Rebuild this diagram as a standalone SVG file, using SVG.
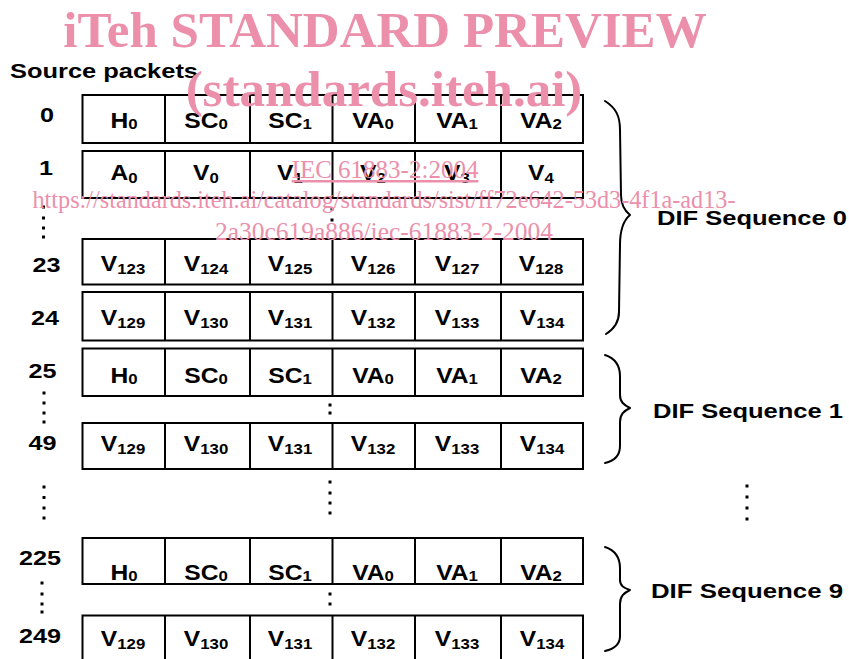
<svg xmlns="http://www.w3.org/2000/svg" width="849" height="659" viewBox="0 0 849 659">
<style>
.t{font-family:"Liberation Sans",Arial,sans-serif;font-weight:bold;font-size:21px;fill:#000}
.k{font-family:"Liberation Sans",Arial,sans-serif;font-weight:bold;font-size:22px;fill:#000;text-anchor:middle}
.c{text-anchor:middle}
.s{font-size:15px}
.box{fill:#fff;stroke:#000;stroke-width:2}
.div{stroke:#000;stroke-width:2}
.br{fill:none;stroke:#000;stroke-width:2;stroke-linecap:round;stroke-linejoin:round}
.d{fill:#000}
.wm{font-family:"Liberation Serif","Times New Roman",serif;fill:#ec8fab}
.wb{font-weight:bold;font-size:51px;text-anchor:middle}
.wr{font-size:25px;text-anchor:middle}
</style>
<rect width="849" height="659" fill="#fff"/>

<g id="title"><text class="t" x="10" y="78" textLength="188" lengthAdjust="spacingAndGlyphs">Source packets</text></g>

<g id="labels">
<text class="t c" transform="translate(47 122) scale(1.2 1)">0</text>
<text class="t c" transform="translate(46 175) scale(1.2 1)">1</text>
<text class="t c" transform="translate(46.5 272) scale(1.2 1)">23</text>
<text class="t c" transform="translate(45 325) scale(1.2 1)">24</text>
<text class="t c" transform="translate(42.5 378) scale(1.2 1)">25</text>
<text class="t c" transform="translate(42.5 450) scale(1.2 1)">49</text>
<text class="t c" transform="translate(40 565) scale(1.2 1)">225</text>
<text class="t c" transform="translate(40 643) scale(1.2 1)">249</text>
</g>

<g id="row0">
<rect class="box" x="82.5" y="95" width="500.5" height="48"/>
<path class="div" d="M165 95V143M250 95V143M332.5 95V143M415 95V143M501 95V143"/>
<text class="k" transform="translate(124 128) scale(1.12 1)">H<tspan class="s" dy="1">0</tspan></text>
<text class="k" transform="translate(206 128) scale(1.12 1)">SC<tspan class="s" dy="1">0</tspan></text>
<text class="k" transform="translate(290 128) scale(1.12 1)">SC<tspan class="s" dy="1">1</tspan></text>
<text class="k" transform="translate(373 128) scale(1.12 1)">VA<tspan class="s" dy="1">0</tspan></text>
<text class="k" transform="translate(457 128) scale(1.12 1)">VA<tspan class="s" dy="1">1</tspan></text>
<text class="k" transform="translate(541 128) scale(1.12 1)">VA<tspan class="s" dy="1">2</tspan></text>
</g>

<g id="row1">
<rect class="box" x="82.5" y="151" width="500.5" height="47"/>
<path class="div" d="M165 151V198M250 151V198M332.5 151V198M415 151V198M501 151V198"/>
<text class="k" transform="translate(124 180) scale(1.12 1)">A<tspan class="s" dy="3">0</tspan></text>
<text class="k" transform="translate(206 180) scale(1.12 1)">V<tspan class="s" dy="3">0</tspan></text>
<text class="k" transform="translate(290 180) scale(1.12 1)">V<tspan class="s" dy="3">1</tspan></text>
<text class="k" transform="translate(373 180) scale(1.12 1)">V<tspan class="s" dy="3">2</tspan></text>
<text class="k" transform="translate(457 180) scale(1.12 1)">V<tspan class="s" dy="3">3</tspan></text>
<text class="k" transform="translate(541 180) scale(1.12 1)">V<tspan class="s" dy="3">4</tspan></text>
</g>

<g id="row23">
<rect class="box" x="82.5" y="239" width="500.5" height="45.5"/>
<path class="div" d="M165 239V284.5M250 239V284.5M332.5 239V284.5M415 239V284.5M501 239V284.5"/>
<text class="k" transform="translate(123 271) scale(1.12 1)">V<tspan class="s" dy="3">123</tspan></text>
<text class="k" transform="translate(206 271) scale(1.12 1)">V<tspan class="s" dy="3">124</tspan></text>
<text class="k" transform="translate(290 271) scale(1.12 1)">V<tspan class="s" dy="3">125</tspan></text>
<text class="k" transform="translate(373 271) scale(1.12 1)">V<tspan class="s" dy="3">126</tspan></text>
<text class="k" transform="translate(457 271) scale(1.12 1)">V<tspan class="s" dy="3">127</tspan></text>
<text class="k" transform="translate(541 271) scale(1.12 1)">V<tspan class="s" dy="3">128</tspan></text>
</g>

<g id="row24">
<rect class="box" x="82.5" y="292" width="500.5" height="48.5"/>
<path class="div" d="M165 292V340.5M250 292V340.5M332.5 292V340.5M415 292V340.5M501 292V340.5"/>
<text class="k" transform="translate(123 325) scale(1.12 1)">V<tspan class="s" dy="3">129</tspan></text>
<text class="k" transform="translate(206 325) scale(1.12 1)">V<tspan class="s" dy="3">130</tspan></text>
<text class="k" transform="translate(290 325) scale(1.12 1)">V<tspan class="s" dy="3">131</tspan></text>
<text class="k" transform="translate(373 325) scale(1.12 1)">V<tspan class="s" dy="3">132</tspan></text>
<text class="k" transform="translate(457 325) scale(1.12 1)">V<tspan class="s" dy="3">133</tspan></text>
<text class="k" transform="translate(542 325) scale(1.12 1)">V<tspan class="s" dy="3">134</tspan></text>
</g>

<g id="row25">
<rect class="box" x="82.5" y="348.5" width="500.5" height="47.5"/>
<path class="div" d="M165 348.5V396M250 348.5V396M332.5 348.5V396M415 348.5V396M501 348.5V396"/>
<text class="k" transform="translate(124 383) scale(1.12 1)">H<tspan class="s" dy="1">0</tspan></text>
<text class="k" transform="translate(206 383) scale(1.12 1)">SC<tspan class="s" dy="1">0</tspan></text>
<text class="k" transform="translate(290 383) scale(1.12 1)">SC<tspan class="s" dy="1">1</tspan></text>
<text class="k" transform="translate(373 383) scale(1.12 1)">VA<tspan class="s" dy="1">0</tspan></text>
<text class="k" transform="translate(457 383) scale(1.12 1)">VA<tspan class="s" dy="1">1</tspan></text>
<text class="k" transform="translate(541 383) scale(1.12 1)">VA<tspan class="s" dy="1">2</tspan></text>
</g>

<g id="row49">
<rect class="box" x="82.5" y="423" width="500.5" height="46"/>
<path class="div" d="M165 423V469M250 423V469M332.5 423V469M415 423V469M501 423V469"/>
<text class="k" transform="translate(123 451) scale(1.12 1)">V<tspan class="s" dy="3">129</tspan></text>
<text class="k" transform="translate(206 451) scale(1.12 1)">V<tspan class="s" dy="3">130</tspan></text>
<text class="k" transform="translate(290 451) scale(1.12 1)">V<tspan class="s" dy="3">131</tspan></text>
<text class="k" transform="translate(373 451) scale(1.12 1)">V<tspan class="s" dy="3">132</tspan></text>
<text class="k" transform="translate(457 451) scale(1.12 1)">V<tspan class="s" dy="3">133</tspan></text>
<text class="k" transform="translate(542 451) scale(1.12 1)">V<tspan class="s" dy="3">134</tspan></text>
</g>

<g id="row225">
<rect class="box" x="82.5" y="538" width="500.5" height="46"/>
<path class="div" d="M165 538V584M250 538V584M332.5 538V584M415 538V584M501 538V584"/>
<text class="k" transform="translate(124 580) scale(1.12 1)">H<tspan class="s" dy="0.5">0</tspan></text>
<text class="k" transform="translate(206 580) scale(1.12 1)">SC<tspan class="s" dy="0.5">0</tspan></text>
<text class="k" transform="translate(290 580) scale(1.12 1)">SC<tspan class="s" dy="0.5">1</tspan></text>
<text class="k" transform="translate(373 580) scale(1.12 1)">VA<tspan class="s" dy="0.5">0</tspan></text>
<text class="k" transform="translate(457 580) scale(1.12 1)">VA<tspan class="s" dy="0.5">1</tspan></text>
<text class="k" transform="translate(541 580) scale(1.12 1)">VA<tspan class="s" dy="0.5">2</tspan></text>
</g>

<g id="row249">
<rect class="box" x="82.5" y="615.5" width="500.5" height="60"/>
<path class="div" d="M165 615.5V675M250 615.5V675M332.5 615.5V675M415 615.5V675M501 615.5V675"/>
<text class="k" transform="translate(123 646) scale(1.12 1)">V<tspan class="s" dy="3">129</tspan></text>
<text class="k" transform="translate(206 646) scale(1.12 1)">V<tspan class="s" dy="3">130</tspan></text>
<text class="k" transform="translate(290 646) scale(1.12 1)">V<tspan class="s" dy="3">131</tspan></text>
<text class="k" transform="translate(373 646) scale(1.12 1)">V<tspan class="s" dy="3">132</tspan></text>
<text class="k" transform="translate(457 646) scale(1.12 1)">V<tspan class="s" dy="3">133</tspan></text>
<text class="k" transform="translate(542 646) scale(1.12 1)">V<tspan class="s" dy="3">134</tspan></text>
</g>

<g id="ellipses">
<rect class="d" x="42" y="205.5" width="3" height="3"/><rect class="d" x="42" y="216.5" width="3" height="3"/><rect class="d" x="42" y="226.5" width="3" height="3"/><rect class="d" x="42" y="235.5" width="3" height="3"/>
<rect class="d" x="42.5" y="391.5" width="3" height="3"/><rect class="d" x="42.5" y="401.5" width="3" height="3"/><rect class="d" x="42.5" y="411.5" width="3" height="3"/><rect class="d" x="42.5" y="420.5" width="3" height="3"/>
<rect class="d" x="42.5" y="485.5" width="3" height="3"/><rect class="d" x="42.5" y="496" width="3" height="3"/><rect class="d" x="42.5" y="506.5" width="3" height="3"/><rect class="d" x="42.5" y="516.5" width="3" height="3"/>
<rect class="d" x="40.5" y="581.5" width="3" height="3"/><rect class="d" x="40.5" y="592.5" width="3" height="3"/><rect class="d" x="40.5" y="602.5" width="3" height="3"/><rect class="d" x="40.5" y="610.5" width="3" height="3"/>
<rect class="d" x="330.5" y="207.5" width="3" height="3"/><rect class="d" x="330.5" y="218.5" width="3" height="3"/>
<rect class="d" x="328.5" y="403.5" width="3" height="3"/><rect class="d" x="328.5" y="411.5" width="3" height="3"/>
<rect class="d" x="328.5" y="480.5" width="3" height="3"/><rect class="d" x="328.5" y="491.5" width="3" height="3"/><rect class="d" x="328.5" y="501.5" width="3" height="3"/><rect class="d" x="328.5" y="511.5" width="3" height="3"/>
<rect class="d" x="328.5" y="592.5" width="3" height="3"/><rect class="d" x="328.5" y="602.5" width="3" height="3"/>
<rect class="d" x="745.5" y="484.5" width="3" height="3"/><rect class="d" x="745.5" y="495.5" width="3" height="3"/><rect class="d" x="745.5" y="506.5" width="3" height="3"/><rect class="d" x="745.5" y="517.5" width="3" height="3"/>
</g>

<g id="connectors">
<path class="br" d="M605 101C616 108 620 116 620 130L621 195C621 205 625 211 630 215C624 220 620 228 620 245L619 312C619 322 614 329 606 334"/>
<path class="br" d="M605 355C614 358 620 364 620 376L620 395C620 402 624 405 630 408C624 411 620 414 620 422L620 446C620 456 614 461 605 463"/>
<path class="br" d="M605 547C614 550 620 556 620 568L620 580C620 586 624 588 630 590C624 593 620 596 620 604L620 636C620 645 614 649 605 651"/>
</g>

<g id="seq0"><text class="t" x="657" y="225" textLength="190" lengthAdjust="spacingAndGlyphs">DIF Sequence 0</text></g>
<g id="seq1"><text class="t" x="653" y="418" textLength="190" lengthAdjust="spacingAndGlyphs">DIF Sequence 1</text></g>
<g id="seq9"><text class="t" x="651" y="598" textLength="192" lengthAdjust="spacingAndGlyphs">DIF Sequence 9</text></g>

<g id="watermark">
<text class="wm wb" x="385" y="47">iTeh STANDARD PREVIEW</text>
<text class="wm wb" x="384" y="106">(standards.iteh.ai)</text>
<text class="wm wr" x="385" y="178" text-decoration="underline">IEC 61883-2:2004</text>
<text class="wm wr" x="384" y="208" textLength="703" lengthAdjust="spacingAndGlyphs">https://standards.iteh.ai/catalog/standards/sist/ff72e642-53d3-4f1a-ad13-</text>
<text class="wm wr" x="384" y="240" textLength="338" lengthAdjust="spacingAndGlyphs">2a30c619a886/iec-61883-2-2004</text>
</g>
</svg>
